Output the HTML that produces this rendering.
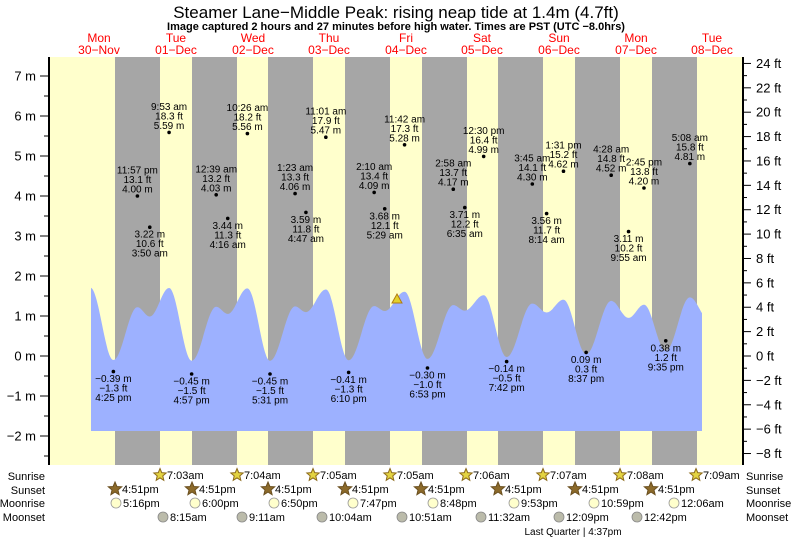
<!DOCTYPE html>
<html><head><meta charset="utf-8">
<style>
html,body{margin:0;padding:0;background:#fff;}
svg{display:block;font-family:"Liberation Sans",Arial,sans-serif;}
</style></head>
<body>
<svg id="s" width="793" height="539" viewBox="0 0 793 539" xmlns="http://www.w3.org/2000/svg">
<rect x="0" y="0" width="793" height="539" fill="#fff"/>
<rect x="49" y="57" width="694" height="408" fill="#ffffcc"/>
<g fill="#a6a6a6">
<rect x="115" y="57" width="45" height="408"/>
<rect x="192" y="57" width="45" height="408"/>
<rect x="268" y="57" width="45" height="408"/>
<rect x="345" y="57" width="45" height="408"/>
<rect x="422" y="57" width="45" height="408"/>
<rect x="498" y="57" width="45" height="408"/>
<rect x="575" y="57" width="45" height="408"/>
<rect x="652" y="57" width="45" height="408"/>
</g>
<path id="water" fill="#9db1ff" d=""/>
<polygon points="392,303 402,303 397,294" fill="#e3d12a" stroke="#b07a10" stroke-width="1"/>
<g id="dyn"></g>
<line x1="49" y1="57" x2="49" y2="465" stroke="#000" stroke-width="2"/>
<line x1="743" y1="57" x2="743" y2="465" stroke="#000" stroke-width="2"/>
<text x="396" y="18" font-size="17" text-anchor="middle" fill="#000">Steamer Lane−Middle Peak: rising  neap tide at 1.4m (4.7ft)</text>
<text x="396" y="30" font-size="11" font-weight="bold" text-anchor="middle" fill="#000">Image captured 2 hours and 27 minutes before high water. Times are PST (UTC −8.0hrs)</text>
<g font-size="12" fill="#ff0000" text-anchor="middle">
<text x="99" y="42">Mon</text><text x="99" y="54">30−Nov</text>
<text x="176" y="42">Tue</text><text x="176" y="54">01−Dec</text>
<text x="253" y="42">Wed</text><text x="253" y="54">02−Dec</text>
<text x="329" y="42">Thu</text><text x="329" y="54">03−Dec</text>
<text x="406" y="42">Fri</text><text x="406" y="54">04−Dec</text>
<text x="482" y="42">Sat</text><text x="482" y="54">05−Dec</text>
<text x="559" y="42">Sun</text><text x="559" y="54">06−Dec</text>
<text x="636" y="42">Mon</text><text x="636" y="54">07−Dec</text>
<text x="712" y="42">Tue</text><text x="712" y="54">08−Dec</text>
</g>
<g font-size="11" fill="#000">
<text x="45" y="480" text-anchor="end">Sunrise</text>
<text x="45" y="494" text-anchor="end">Sunset</text>
<text x="45" y="507" text-anchor="end">Moonrise</text>
<text x="45" y="521" text-anchor="end">Moonset</text>
<text x="746" y="480">Sunrise</text>
<text x="746" y="494">Sunset</text>
<text x="746" y="507">Moonrise</text>
<text x="746" y="521">Moonset</text>
<text x="573" y="535" font-size="10" text-anchor="middle">Last Quarter | 4:37pm</text>
</g>
</svg>
<script>
(function(){
var NS="http://www.w3.org/2000/svg";
var g=document.getElementById('dyn');
function el(n,a,t){var e=document.createElementNS(NS,n);for(var k in a)e.setAttribute(k,a[k]);if(t!==undefined)e.textContent=t;g.appendChild(e);return e;}
function X(t){return 61+t*3.19;}
function Ym(m){return 356-40*m;}
var ex=[[9.2,5.62],[16.42,-0.39],[23.95,4.00],[27.83,3.22],[33.88,5.59],[40.95,-0.45],[48.65,4.03],[52.27,3.44],[58.43,5.56],[65.52,-0.45],[73.38,4.06],[76.78,3.59],[83.02,5.47],[90.17,-0.41],[98.17,4.09],[101.48,3.68],[107.7,5.28],[114.88,-0.30],[122.97,4.17],[126.58,3.71],[132.5,4.99],[139.7,-0.14],[147.75,4.30],[152.23,3.56],[157.52,4.62],[164.62,0.09],[172.47,4.52],[177.92,3.11],[182.75,4.20],[189.58,0.38],[197.13,4.81],[203.0,3.0]];
function val(t){for(var i=0;i<ex.length-1;i++){var a=ex[i],b=ex[i+1];if(t>=a[0]&&t<=b[0]){var f=(1-Math.cos(Math.PI*(t-a[0])/(b[0]-a[0])))/2;return a[1]+(b[1]-a[1])*f;}}return ex[ex.length-1][1];}
var t0=(91-61)/3.19,t1=(702-61)/3.19,d="M91,431";
for(var t=t0;t<=t1;t+=0.25){var v=val(t);d+=" L"+X(t).toFixed(1)+","+Ym(0.301*v+0.017).toFixed(1);}
d+=" L702,"+Ym(0.301*val(t1)+0.017).toFixed(1)+" L702,431 Z";
document.getElementById('water').setAttribute('d',d);
for(var m=-2.5;m<=7.5;m+=0.5){var y=Ym(m);if(y<57||y>465)continue;var maj=Math.abs(m-Math.round(m))<0.01;el('line',{x1:maj?40:44,y1:y,x2:49,y2:y,stroke:'#000','stroke-width':1});if(maj)el('text',{x:36,y:y+4.5,'font-size':13,'text-anchor':'end'},(m<0?'−':'')+Math.abs(m)+' m');}
for(var f=-9;f<=25;f++){var y=356-f*12.19;if(y<57||y>465)continue;var maj=(f%2===0);el('line',{x1:743,y1:y,x2:maj?751:747,y2:y,stroke:'#000','stroke-width':1});if(maj)el('text',{x:756,y:y+4.5,'font-size':13},(f<0?'−':'')+Math.abs(f)+' ft');}
var L=[
[23.95,4.00,'11:57 pm','13.1 ft','4.00 m',1],[27.83,3.22,'3:50 am','10.6 ft','3.22 m',0],[33.88,5.59,'9:53 am','18.3 ft','5.59 m',1],[40.95,-0.45,'4:57 pm','−1.5 ft','−0.45 m',0],
[48.65,4.03,'12:39 am','13.2 ft','4.03 m',1],[52.27,3.44,'4:16 am','11.3 ft','3.44 m',0],[58.43,5.56,'10:26 am','18.2 ft','5.56 m',1],[65.52,-0.45,'5:31 pm','−1.5 ft','−0.45 m',0],
[73.38,4.06,'1:23 am','13.3 ft','4.06 m',1],[76.78,3.59,'4:47 am','11.8 ft','3.59 m',0],[83.02,5.47,'11:01 am','17.9 ft','5.47 m',1],[90.17,-0.41,'6:10 pm','−1.3 ft','−0.41 m',0],
[98.17,4.09,'2:10 am','13.4 ft','4.09 m',1],[101.48,3.68,'5:29 am','12.1 ft','3.68 m',0],[107.7,5.28,'11:42 am','17.3 ft','5.28 m',1],[114.88,-0.30,'6:53 pm','−1.0 ft','−0.30 m',0],
[122.97,4.17,'2:58 am','13.7 ft','4.17 m',1],[126.58,3.71,'6:35 am','12.2 ft','3.71 m',0],[132.5,4.99,'12:30 pm','16.4 ft','4.99 m',1],[139.7,-0.14,'7:42 pm','−0.5 ft','−0.14 m',0],
[147.75,4.30,'3:45 am','14.1 ft','4.30 m',1],[152.23,3.56,'8:14 am','11.7 ft','3.56 m',0],[157.52,4.62,'1:31 pm','15.2 ft','4.62 m',1],[164.62,0.09,'8:37 pm','0.3 ft','0.09 m',0],
[172.47,4.52,'4:28 am','14.8 ft','4.52 m',1],[177.92,3.11,'9:55 am','10.2 ft','3.11 m',0],[182.75,4.20,'2:45 pm','13.8 ft','4.20 m',1],[189.58,0.38,'9:35 pm','1.2 ft','0.38 m',0],
[197.13,4.81,'5:08 am','15.8 ft','4.81 m',1],[16.42,-0.39,'4:25 pm','−1.3 ft','−0.39 m',0]];
L.forEach(function(a){var x=X(a[0]),y=Ym(a[1]);el('circle',{cx:x,cy:y,r:1.8,fill:'#000'});
if(a[5]){el('text',{x:x,y:y-22.5,'font-size':10,'text-anchor':'middle'},a[2]);el('text',{x:x,y:y-13,'font-size':10,'text-anchor':'middle'},a[3]);el('text',{x:x,y:y-3.5,'font-size':10,'text-anchor':'middle'},a[4]);}
else{el('text',{x:x,y:y+10.5,'font-size':10,'text-anchor':'middle'},a[4]);el('text',{x:x,y:y+20,'font-size':10,'text-anchor':'middle'},a[3]);el('text',{x:x,y:y+29.5,'font-size':10,'text-anchor':'middle'},a[2]);}});
function star(cx,cy,r,fill,stroke){var p=[];for(var i=0;i<10;i++){var rr=i%2?r*0.45:r;var an=-Math.PI/2+i*Math.PI/5;p.push((cx+rr*Math.cos(an)).toFixed(1)+','+(cy+rr*Math.sin(an)).toFixed(1));}el('polygon',{points:p.join(' '),fill:fill,stroke:stroke,'stroke-width':1});}
var sr=[[160,'7:03am'],[237,'7:04am'],[313,'7:05am'],[390,'7:05am'],[466,'7:06am'],[543,'7:07am'],[620,'7:08am'],[696,'7:09am']];
sr.forEach(function(a){star(a[0],475,6.5,'#e3d342','#8c6a1a');el('text',{x:a[0]+7,y:479,'font-size':11},a[1]);});
var ss=[115,192,268,345,421,498,575,651];
ss.forEach(function(x){star(x,489,7,'#8c6a2a','#6b5020');el('text',{x:x+7,y:493,'font-size':11},'4:51pm');});
var mr=[[116,'5:16pm'],[195,'6:00pm'],[274,'6:50pm'],[353,'7:47pm'],[433,'8:48pm'],[514,'9:53pm'],[594,'10:59pm'],[674,'12:06am']];
mr.forEach(function(a){el('circle',{cx:a[0],cy:503,r:5,fill:'#ffffcc',stroke:'#999','stroke-width':0.8});el('text',{x:a[0]+7,y:507,'font-size':11},a[1]);});
var ms=[[163,'8:15am'],[242,'9:11am'],[322,'10:04am'],[402,'10:51am'],[481,'11:32am'],[559,'12:09pm'],[637,'12:42pm']];
ms.forEach(function(a){el('circle',{cx:a[0],cy:517,r:5,fill:'#bbbbaa',stroke:'#888','stroke-width':0.8});el('text',{x:a[0]+7,y:521,'font-size':11},a[1]);});
})();
</script>
</body></html>
